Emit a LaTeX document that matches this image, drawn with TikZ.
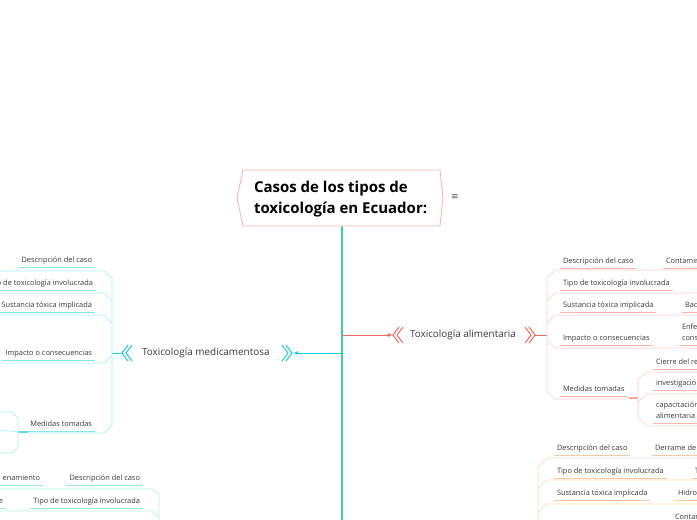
\documentclass[tikz,border=0pt]{standalone}
\usepackage{fontspec}
\setmainfont{Open Sans}
\newfontfamily\symfont{DejaVu Sans}
\newcommand*{\leaffont}{\fontsize{7.4}{10.5}\selectfont}
\newcommand*{\topicfont}{\fontsize{9.9}{11}\selectfont}
\newcommand*{\titlefont}{\fontsize{15}{21}\selectfont\bfseries}
\definecolor{txt}{HTML}{383838}
\definecolor{darkgrey}{HTML}{555555}
\definecolor{trunkgreen}{HTML}{3FD1A4}
\definecolor{salmon}{HTML}{F26A5E}
\definecolor{pinkline}{HTML}{FCD0CB}
\definecolor{pinkunder}{HTML}{F9B5AE}
\definecolor{cyan}{HTML}{1FCAD9}
\definecolor{cyanline}{HTML}{A8EEF4}
\definecolor{cyanunder}{HTML}{86E5EE}
\definecolor{peachline}{HTML}{FDD9BC}
\definecolor{peachunder}{HTML}{FDC79E}
\definecolor{greenline}{HTML}{B3F0DB}
\definecolor{greenunder}{HTML}{98E9CB}
\usepackage{tikz}
\usetikzlibrary{arrows}
\tikzstyle{base}=[x=1pt, y=-1pt, inner sep=0pt, outer sep=0pt]
\tikzstyle{leaf}=[font=\leaffont, text=txt, text depth=1.5pt, align=left]
\tikzstyle{topic}=[font=\topicfont, text=txt]
\tikzstyle{pinkrow}=[draw=pinkline, line width=0.7pt]
\tikzstyle{pinkul}=[draw=pinkunder, line width=1pt]
\tikzstyle{pinkjoin}=[draw=salmon!60, line width=1.6pt]
\tikzstyle{cyanrow}=[draw=cyanline, line width=0.7pt]
\tikzstyle{cyanul}=[draw=cyanunder, line width=1pt]
\tikzstyle{cyanjoin}=[draw=cyan!70, line width=1.6pt]
\tikzstyle{peachrow}=[draw=peachline, line width=0.7pt]
\tikzstyle{peachul}=[draw=peachunder, line width=1pt]
\tikzstyle{greenrow}=[draw=greenline, line width=0.7pt]
\tikzstyle{greenul}=[draw=greenunder, line width=1pt]
\newcommand*{\underl}[2]{\draw[#2] ([xshift=-3pt,yshift=-3.5pt]#1.south west) -- ([xshift=3pt,yshift=-3.5pt]#1.south east);}
\newcommand*{\chevleft}[3]{\draw[#3, line width=1pt] (#1+6,#2-8) -- (#1,#2) -- (#1+6,#2+8) (#1+10,#2-8) -- (#1+4,#2) -- (#1+10,#2+8);}
\newcommand*{\chevright}[3]{\draw[#3, line width=1pt] (#1-6,#2-8) -- (#1,#2) -- (#1-6,#2+8) (#1-10,#2-8) -- (#1-4,#2) -- (#1-10,#2+8);}

\begin{document}
\begin{tikzpicture}[base]
    \useasboundingbox (0,0) rectangle (697,520);
    \clip (0,0) rectangle (697,520);

    % trunk and central topic
    \coordinate (hexbot) at (342,226);
    \coordinate (trunkend) at (342,520);
    \draw [trunkgreen, line width=1.8pt] (hexbot) -- (trunkend);
    \draw [pinkunder, line width=0.9pt, fill=white] (243,170) -- (440,170) -- (443,198) -- (440,226) -- (243,226) -- (237,198) -- cycle;
    \node [font=\titlefont, text=black, align=left, anchor=west] (title) at (254,199) {Casos de los tipos de\\toxicología en Ecuador:};
    \node [font=\symfont\fontsize{9}{9}\selectfont, text=darkgrey] (notes) at (455,197) {≡};

    % Toxicologia alimentaria
    \coordinate (alimstem) at (342,335);
    \coordinate (alimin) at (393,335);
    \coordinate (alimout) at (535,335);
    \coordinate (rjoin) at (547,335);
    \node [topic, anchor=west] (alim) at (410,335) {Toxicología alimentaria};
    \draw [salmon, line width=0.8pt, -latex] (alimstem) -- (alimin);
    \chevleft{393}{335}{salmon}
    \chevright{535}{335}{salmon}
    \draw [salmon, line width=0.8pt] (alimout) -- (rjoin);

    \node [leaf, anchor=base west] (rdesc) at (563,263) {Descripción del caso};
    \node [leaf, anchor=base west] (rdescv) at (666,263) {Contamin};
    \node [leaf, anchor=base west] (rtipo) at (563,285) {Tipo de toxicología involucrada};
    \node [leaf, anchor=base west] (rsust) at (563,307) {Sustancia tóxica implicada};
    \node [leaf, anchor=base west] (rsustv) at (685,307) {Bac};
    \node [leaf, anchor=base west] (rimp) at (563,340) {Impacto o consecuencias};
    \node [leaf, anchor=west] (rimpv) at (682,333) {Enfe\\cons};
    \node [leaf, anchor=base west] (rmed) at (563,391) {Medidas tomadas};
    \node [leaf, anchor=base west] (rcierre) at (656,364) {Cierre del re};
    \node [leaf, anchor=base west] (rinv) at (656,385) {investigació};
    \node [leaf, anchor=west] (rcap) at (656,411) {capacitación\\alimentaria};
    \underl{rdesc}{pinkul} \underl{rdescv}{pinkul} \underl{rtipo}{pinkul}
    \underl{rsust}{pinkul} \underl{rsustv}{pinkul} \underl{rimp}{pinkul}
    \underl{rimpv}{pinkul} \underl{rmed}{pinkul} \underl{rcierre}{pinkul}
    \underl{rinv}{pinkul} \underl{rcap}{pinkul}

    \coordinate (rtop) at (547,278);
    \coordinate (rbot) at (547,391);
    \coordinate (rsub) at (638,398);
    \draw [pinkrow] (697,270) -- (555,270) -- (rtop) -- (rbot) -- (555,399) -- (630,399);
    \draw [pinkrow] (697,293) -- (555,293) -- (547,301);
    \draw [pinkrow] (697,315) -- (555,315) -- (547,323);
    \draw [pinkrow] (697,348) -- (555,348) -- (547,340);
    \draw [pinkjoin] (629,398) -- (rsub);
    \draw [pinkrow] (697,372) -- (647,372) -- (638,380) -- (638,417) -- (647,426) -- (697,426);
    \draw [pinkrow] (697,394) -- (647,394) -- (638,402);

    % Toxicologia medicamentosa
    \coordinate (medstem) at (342,353);
    \coordinate (medin) at (293,353);
    \coordinate (medout) at (122,353);
    \coordinate (ljoin) at (112,353);
    \node [topic, anchor=west] (med) at (142,353) {Toxicología medicamentosa};
    \draw [cyan, line width=0.8pt, -latex] (medstem) -- (medin);
    \chevright{292}{353}{cyan}
    \chevleft{122}{353}{cyan}
    \draw [cyan, line width=0.8pt] (medout) -- (ljoin);

    \node [leaf, anchor=base east] (ldesc) at (92,262) {Descripción del caso};
    \node [leaf, anchor=base east] (ltipo) at (93,285) {o de toxicología involucrada};
    \node [leaf, anchor=base east] (lsust) at (92,307) {Sustancia tóxica implicada};
    \node [leaf, anchor=base east] (limp) at (92,355) {Impacto o consecuencias};
    \node [leaf, anchor=base east] (lmed) at (92,426) {Medidas tomadas};
    \underl{ldesc}{cyanul} \underl{ltipo}{cyanul} \underl{lsust}{cyanul}
    \underl{limp}{cyanul} \underl{lmed}{cyanul}

    \coordinate (ltop) at (112,278);
    \coordinate (lbot) at (112,425);
    \coordinate (lsub) at (18,432);
    \draw [cyanrow] (0,271) -- (104,271) -- (ltop) -- (lbot) -- (104,433) -- (28,433);
    \draw [cyanrow] (0,293) -- (104,293) -- (112,301);
    \draw [cyanrow] (0,315) -- (104,315) -- (112,323);
    \draw [cyanrow] (0,363) -- (104,363) -- (112,356);
    \draw [cyanjoin] (28,432) -- (lsub);
    \draw [cyanrow] (0,412) -- (12,412) -- (18,418) -- (18,447) -- (12,453) -- (0,453);
    \draw [cyanrow] (0,430) -- (lsub);

    % lower left branch
    \node [leaf, anchor=base east] (blalm) at (40,480) {enamiento};
    \node [leaf, anchor=base east] (bldesc) at (140,480) {Descripción del caso};
    \node [leaf, anchor=base east] (ble) at (3,503) {e};
    \node [leaf, anchor=base east] (bltipo) at (140,503) {Tipo de toxicología involucrada};
    \underl{blalm}{greenul} \underl{bldesc}{greenul}
    \underl{ble}{greenul} \underl{bltipo}{greenul}
    \draw [greenrow] (0,489) -- (152,489) -- (159,495) -- (159,520);
    \draw [greenrow] (0,511) -- (152,511) -- (159,517);

    % lower right branch
    \node [leaf, anchor=base west] (brdesc) at (557,450) {Descripción del caso};
    \node [leaf, anchor=base west] (brdescv) at (655,450) {Derrame de};
    \node [leaf, anchor=base west] (brtipo) at (557,473) {Tipo de toxicología involucrada};
    \node [leaf, anchor=base west] (brtipov) at (695,473) {T};
    \node [leaf, anchor=base west] (brsust) at (557,495) {Sustancia tóxica implicada};
    \node [leaf, anchor=base west] (brsustv) at (678,495) {Hidro};
    \node [leaf, anchor=base west] (brcont) at (675,519) {Contam};
    \underl{brdesc}{peachul} \underl{brdescv}{peachul} \underl{brtipo}{peachul}
    \underl{brtipov}{peachul} \underl{brsust}{peachul} \underl{brsustv}{peachul}
    \draw [peachrow] (697,458) -- (547,458) -- (538,467) -- (538,520);
    \draw [peachrow] (697,480) -- (547,480) -- (538,488);
    \draw [peachrow] (697,504) -- (547,504) -- (538,512);
\end{tikzpicture}
\end{document}
